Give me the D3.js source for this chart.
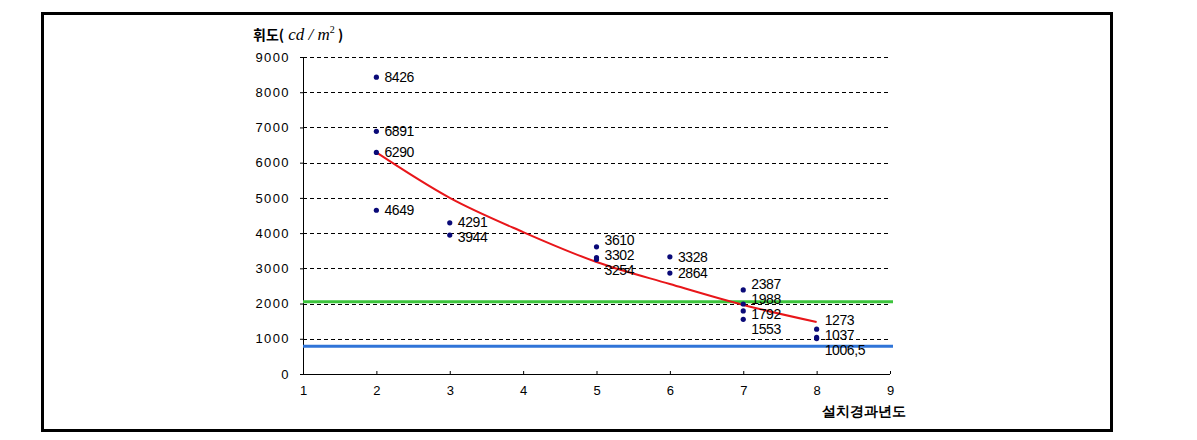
<!DOCTYPE html>
<html>
<head>
<meta charset="utf-8">
<script src="https://cdn.jsdelivr.net/npm/d3@7"></script>
<style>
  body { margin: 0; background: #fff; }
  svg text { font-family: "Liberation Sans", Arial, sans-serif; }
</style>
</head>
<body>
<div class="chart"></div>
<script>
// measured points: year since install, luminance
const pointYears = [2, 2, 2, 2, 3, 3, 5, 5, 5, 6, 6, 7, 7, 7, 7, 8, 8, 8];
const pointValues = [8426, 6891, 6290, 4649, 4291, 3944, 3610, 3302, 3254, 3328, 2864, 2387, 1988, 1792, 1553, 1273, 1037, 1006.5];
const pointLabels = ["8426", "6891", "6290", "4649", "4291", "3944", "3610", "3302", "3254", "3328", "2864", "2387", "1988", "1792", "1553", "1273", "1037", "1006,5"];

// trend curve
const trendYears = [2, 3, 4, 5, 6, 7, 8];
const trendValues = [6290, 5000, 4030, 3180, 2555, 1960, 1476];

// reference lines
const greenLevel = 2050;
const blueLevel = 790;

const xTicks = [1, 2, 3, 4, 5, 6, 7, 8, 9];
const yTicks = [0, 1000, 2000, 3000, 4000, 5000, 6000, 7000, 8000, 9000];

const W = 1197, H = 440;
const margin = { left: 303, right: 307, top: 57, bottom: 66 };
const width = W - margin.left - margin.right;
const height = H - margin.top - margin.bottom;

const svg = d3.select('.chart').append('svg')
    .attr('width', W)
    .attr('height', H);

// outer frame
svg.append('rect')
    .attr('x', 42.5).attr('y', 13.5)
    .attr('width', 1069).attr('height', 417)
    .attr('fill', 'none')
    .attr('stroke', '#000')
    .attr('stroke-width', 3);

const g = svg.append('g')
    .attr('transform', `translate(${margin.left},${margin.top})`);

const x = d3.scaleLinear().domain([1, 9]).range([0, width]);
const y = d3.scaleLinear().domain([0, 9000]).range([height, 0]);

// dashed gridlines
g.selectAll('.grid')
    .data(yTicks.filter(d => d > 0))
    .enter().append('line')
    .attr('x1', 0).attr('x2', width + 1)
    .attr('y1', d => Math.round(y(d)) + 0.5)
    .attr('y2', d => Math.round(y(d)) + 0.5)
    .attr('stroke', '#000')
    .attr('stroke-width', 1)
    .attr('stroke-dasharray', '4,3');

// y axis
const yAxis = g.append('g')
    .call(d3.axisLeft(y).tickValues(yTicks).tickSize(3).tickPadding(10).tickFormat(d3.format('d')));
yAxis.select('.domain').attr('stroke', '#000');
yAxis.selectAll('text')
    .attr('font-size', 13)
    .attr('letter-spacing', 1.4)
    .attr('fill', '#000');

// x axis
const xAxis = g.append('g')
    .attr('transform', `translate(0,${height})`)
    .call(d3.axisBottom(x).tickValues(xTicks).tickSize(-3).tickPadding(12).tickFormat(d3.format('d')));
xAxis.select('.domain').attr('stroke', '#000').attr('d', `M0,0.5H${width}`);
xAxis.selectAll('text')
    .attr('font-size', 13)
    .attr('fill', '#000');

// reference lines
g.append('line')
    .attr('x1', 0).attr('x2', width + 3)
    .attr('y1', y(greenLevel)).attr('y2', y(greenLevel))
    .attr('stroke', '#3cc43c')
    .attr('stroke-width', 3);
g.append('line')
    .attr('x1', 0).attr('x2', width + 3)
    .attr('y1', y(blueLevel)).attr('y2', y(blueLevel))
    .attr('stroke', '#2f74d8')
    .attr('stroke-width', 3);

// trend curve
const trend = trendYears.map((d, i) => ({ x: d, v: trendValues[i] }));
g.append('path')
    .datum(trend)
    .attr('fill', 'none')
    .attr('stroke', '#e8161a')
    .attr('stroke-width', 2)
    .attr('d', d3.line()
        .x(d => x(d.x))
        .y(d => y(d.v))
        .curve(d3.curveMonotoneX));

// points
const pts = pointYears.map((d, i) => ({ x: d, v: pointValues[i], label: pointLabels[i] }));
g.selectAll('.pt')
    .data(pts)
    .enter().append('circle')
    .attr('cx', d => x(d.x))
    .attr('cy', d => y(d.v))
    .attr('r', 2.6)
    .attr('fill', '#0a0a78');

// label placement: spread crowded labels in a year group
const gap = 15;
d3.groups(pts, d => d.x).forEach(([yr, list]) => {
    list.sort((a, b) => b.v - a.v);
    list.forEach(d => d.ly = y(d.v));
    for (let iter = 0; iter < 60; iter++) {
        for (let i = 1; i < list.length; i++) {
            const over = gap - (list[i].ly - list[i - 1].ly);
            if (over > 0) {
                list[i - 1].ly -= over / 2;
                list[i].ly += over / 2;
            }
        }
    }
});

g.selectAll('.lbl')
    .data(pts)
    .enter().append('text')
    .attr('x', d => x(d.x) + 8)
    .attr('y', d => d.ly)
    .attr('dy', '0.36em')
    .attr('font-size', 14)
    .attr('letter-spacing', -0.4)
    .attr('fill', '#000')
    .text(d => d.label);

// axis titles
const yTitle = svg.append('text')
    .attr('x', 253).attr('y', 40)
    .attr('font-size', 14)
    .attr('fill', '#000');
yTitle.append('tspan')
    .attr('font-family', '"Noto Sans CJK KR", sans-serif')
    .attr('font-weight', 'bold')
    .text('휘도(');
yTitle.append('tspan')
    .attr('font-family', '"Liberation Serif", serif')
    .attr('font-style', 'italic')
    .attr('font-size', 17)
    .text(' cd / m');
yTitle.append('tspan')
    .attr('font-family', '"Liberation Serif", serif')
    .attr('font-size', 10)
    .attr('dy', -7)
    .text('2');
yTitle.append('tspan')
    .attr('font-family', '"Noto Sans CJK KR", sans-serif')
    .attr('font-weight', 'bold')
    .attr('dy', 7)
    .text(' )');

svg.append('text')
    .attr('x', 906).attr('y', 416)
    .attr('text-anchor', 'end')
    .attr('font-family', '"Noto Sans CJK KR", sans-serif')
    .attr('font-weight', 'bold')
    .attr('font-size', 14)
    .attr('fill', '#000')
    .text('설치경과년도');
</script>
</body>
</html>
